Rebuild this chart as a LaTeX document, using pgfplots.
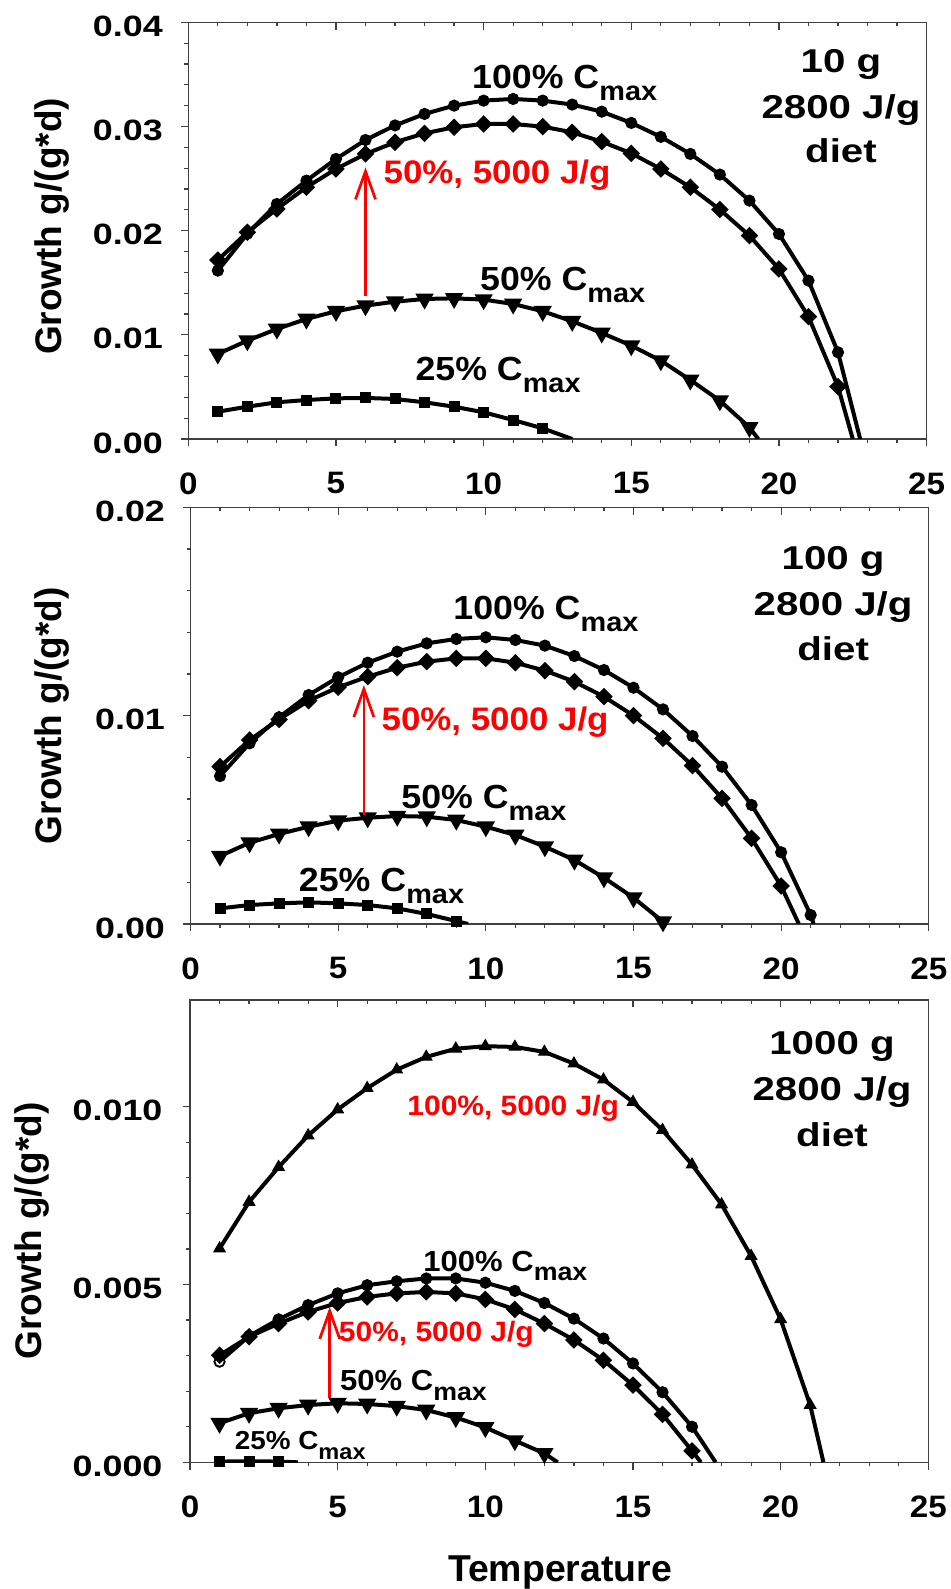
\documentclass[border=0pt]{standalone}
\usepackage{fontspec}
\setmainfont{Liberation Sans}
\newfontfamily\semi{Liberation Sans}[FakeStretch=1.07]
\newfontfamily\wide{Liberation Sans}[FakeStretch=1.22]
\usepackage{pgfplots}
\pgfplotsset{compat=1.18}
\usetikzlibrary{arrows.meta}

% C with a lowered "max"
\newcommand\cmax[2]{C\raisebox{-#2}{\fontsize{#1}{#1}\selectfont max}}
\newcommand\lab{\semi\bfseries\fontsize{16.7}{18}\selectfont}
\newcommand\labs{\semi\bfseries\fontsize{14.5}{16}\selectfont}
\newcommand\panel{\wide\bfseries\fontsize{16.5}{18}\selectfont}

\tikzset{redarrow/.style={red, line width=1.35pt, -{Straight Barb[length=14pt,width=10pt]}}}

\pgfplotsset{
  panel/.style={
    scale only axis, width=369.15pt, anchor=south west,
    xmin=0, xmax=25, xtick={0,5,10,15,20,25}, minor x tick num=4,
    xtick pos=bottom, ytick pos=left, tick align=outside,
    major tick length=3.75pt, minor tick length=2pt,
    axis line style={black!75, line width=0.6pt},
    tick style={black!75, line width=0.6pt},
    scaled y ticks=false,
    /pgf/number format/assume math mode=true,
    xticklabel style={font=\semi\bfseries\fontsize{15.5}{16}\selectfont, yshift=-9.5pt},
    yticklabel style={font=\wide\bfseries\fontsize{14.7}{16}\selectfont, xshift=-5.5pt, yshift=-2pt},
    clip mode=individual,
  },
  topticks/.style={
    scale only axis, width=369.15pt, anchor=south west,
    xmin=0, xmax=25, xtick={0,5,10,15,20,25}, minor x tick num=4,
    axis x line*=top, axis y line=none, xticklabels={}, ytick=\empty,
    tick align=inside, major tick length=3.75pt, minor tick length=2pt,
    axis line style={black!75, line width=0.6pt},
    tick style={black!75, line width=0.6pt},
  },
  curve/.style={black, line width=2pt, mark options={solid, fill=black, line width=0.5pt}},
  tail/.style={black, line width=2pt, no marks},
  circ/.style={curve, mark=*, mark size=2.8pt},
  diam/.style={curve, mark=square*, mark size=2.1pt, mark options={rotate=45}},
  tdown/.style={curve, mark=triangle*, mark size=3.3pt, mark options={rotate=180}},
  tup/.style={curve, mark=triangle*, mark size=3.3pt},
  sq/.style={curve, mark=square*, mark size=2.5pt},
}

\begin{document}
\begin{tikzpicture}
\path[use as bounding box] (0,0) rectangle (475.5pt,794.5pt);

% ---------------- 10 g fish ----------------
\begin{axis}[panel, at={(94.15pt,575pt)}, height=208.35pt,
  ymin=0, ymax=0.04, ytick={0,0.01,0.02,0.03,0.04}, minor y tick num=4,
  yticklabel style={/pgf/number format/.cd, fixed, fixed zerofill, precision=2}]
\addplot[circ] coordinates {(1,0.01616)(2,0.0197)(3,0.02256)(4,0.0248)(5,0.02688)(6,0.0287)(7,0.0301)(8,0.0312)(9,0.0320)(10,0.03248)(11,0.03264)(12,0.03248)(13,0.0321)(14,0.03142)(15,0.03034)(16,0.0290)(17,0.02736)(18,0.02538)(19,0.02288)(20,0.01968)(21,0.0152)(22,0.00832)};
\addplot[tail] coordinates {(22,0.00832)(22.75,0)};
\addplot[diam] coordinates {(1,0.01718)(2,0.01984)(3,0.02208)(4,0.02416)(5,0.02592)(6,0.02736)(7,0.02848)(8,0.02934)(9,0.02992)(10,0.03024)(11,0.03024)(12,0.02998)(13,0.02944)(14,0.02854)(15,0.02742)(16,0.02592)(17,0.02416)(18,0.02202)(19,0.01952)(20,0.01632)(21,0.01174)(22,0.00502)};
\addplot[tail] coordinates {(22,0.00502)(22.5,0)};
\addplot[tdown] coordinates {(1,0.00816)(2,0.00944)(3,0.01056)(4,0.01152)(5,0.01226)(6,0.0128)(7,0.01318)(8,0.01344)(9,0.0135)(10,0.01338)(11,0.01296)(12,0.01226)(13,0.0113)(14,0.01018)(15,0.00896)(16,0.00752)(17,0.00566)(18,0.00368)(19,0.00112)};
\addplot[tail] coordinates {(19,0.00112)(19.3,0)};
\addplot[sq] coordinates {(1,0.00262)(2,0.0031)(3,0.00352)(4,0.00374)(5,0.0039)(6,0.00394)(7,0.00384)(8,0.00352)(9,0.0031)(10,0.00256)(11,0.00182)(12,0.00102)};
\addplot[tail] coordinates {(12,0.00102)(13.0,0)};
\draw[redarrow] (axis cs:6,0.0137) -- (axis cs:6,0.02608);
\node[anchor=base west, inner sep=0, font=\lab] at (axis cs:9.6,0.0336) {100\% \cmax{13.5pt}{6pt}};
\node[anchor=base west, inner sep=0, font=\lab] at (axis cs:9.87,0.01424) {50\% \cmax{13.5pt}{6pt}};
\node[anchor=base west, inner sep=0, font=\lab] at (axis cs:7.68,0.0056) {25\% \cmax{13.5pt}{6pt}};
\node[anchor=base west, inner sep=0, font=\semi\bfseries\fontsize{16.3}{18}\selectfont, text=red] at (axis cs:6.6,0.02448) {50\%, 5000 J/g};
\node[anchor=base, inner sep=0, font=\panel] at (axis cs:22.1,0.03516) {10 g};
\node[anchor=base, inner sep=0, font=\panel] at (axis cs:22.1,0.03078) {2800 J/g};
\node[anchor=base, inner sep=0, font=\panel] at (axis cs:22.1,0.02652) {diet};
\end{axis}
\begin{axis}[topticks, at={(94.15pt,575pt)}, height=208.35pt, ymin=0, ymax=0.04]
\end{axis}

% ---------------- 100 g fish ----------------
\begin{axis}[panel, at={(95.25pt,332.5pt)}, height=208.35pt,
  ymin=0, ymax=0.02, ytick={0,0.01,0.02}, minor y tick num=4,
  yticklabel style={/pgf/number format/.cd, fixed, fixed zerofill, precision=2}]
\addplot[circ] coordinates {(1,0.0071)(2,0.00867)(3,0.00992)(4,0.01099)(5,0.01184)(6,0.01254)(7,0.01307)(8,0.01347)(9,0.01368)(10,0.01376)(11,0.01363)(12,0.01336)(13,0.01286)(14,0.01219)(15,0.01134)(16,0.0103)(17,0.00902)(18,0.00755)(19,0.00571)(20,0.00344)(21,0.00043)};
\addplot[tail] coordinates {(21,0.00043)(21.1,0)};
\addplot[diam] coordinates {(1,0.00755)(2,0.00883)(3,0.00982)(4,0.01072)(5,0.01136)(6,0.01187)(7,0.0123)(8,0.01259)(9,0.01275)(10,0.01275)(11,0.01254)(12,0.01216)(13,0.01163)(14,0.01091)(15,0.01)(16,0.00891)(17,0.0076)(18,0.00603)(19,0.00411)(20,0.00182)};
\addplot[tail] coordinates {(20,0.00182)(20.6,0)};
\addplot[tdown] coordinates {(1,0.00326)(2,0.0039)(3,0.00432)(4,0.00467)(5,0.00496)(6,0.0051)(7,0.00518)(8,0.00515)(9,0.00499)(10,0.00467)(11,0.00427)(12,0.00371)(13,0.00307)(14,0.00222)(15,0.00126)(16,0.00011)};
\addplot[tail] coordinates {(16,0.00011)(16.05,0)};
\addplot[sq] coordinates {(1,0.00075)(2,0.00091)(3,0.00099)(4,0.00104)(5,0.00099)(6,0.00091)(7,0.00075)(8,0.00048)(9,0.00014)};
\addplot[tail] coordinates {(9,0.00014)(9.4,0)};
\draw[redarrow] (axis cs:5.87,0.00523) -- (axis cs:5.87,0.01147);
\node[anchor=base west, inner sep=0, font=\lab] at (axis cs:8.89,0.01462) {100\% \cmax{13.5pt}{6pt}};
\node[anchor=base west, inner sep=0, font=\lab] at (axis cs:7.13,0.00555) {50\% \cmax{13.5pt}{6pt}};
\node[anchor=base west, inner sep=0, font=\lab] at (axis cs:3.66,0.00155) {25\% \cmax{13.5pt}{6pt}};
\node[anchor=base west, inner sep=0, font=\semi\bfseries\fontsize{16.3}{18}\selectfont, text=red] at (axis cs:6.46,0.00931) {50\%, 5000 J/g};
\node[anchor=base, inner sep=0, font=\panel] at (axis cs:21.76,0.01699) {100 g};
\node[anchor=base, inner sep=0, font=\panel] at (axis cs:21.76,0.01483) {2800 J/g};
\node[anchor=base, inner sep=0, font=\panel] at (axis cs:21.76,0.01267) {diet};
\end{axis}
\begin{axis}[topticks, at={(95.25pt,332.5pt)}, height=208.35pt, ymin=0, ymax=0.02]
\end{axis}

% ---------------- 1000 g fish ----------------
\begin{axis}[panel, at={(95pt,63.35pt)}, height=231.15pt,
  ymin=0, ymax=0.013, ytick={0,0.005,0.01}, minor y tick num=4,
  yticklabel style={xshift=-1pt, /pgf/number format/.cd, fixed, fixed zerofill, precision=3}]
\addplot[tup] coordinates {(1,0.00601)(2,0.00732)(3,0.0083)(4,0.00919)(5,0.00992)(6,0.01052)(7,0.01104)(8,0.0114)(9,0.01163)(10,0.0117)(11,0.01168)(12,0.01154)(13,0.01121)(14,0.01076)(15,0.01013)(16,0.00934)(17,0.00837)(18,0.00725)(19,0.0058)(20,0.00402)(21,0.00161)};
\addplot[tail] coordinates {(21,0.00161)(21.45,0)};
\addplot[circ] coordinates {(1,0.00283)(2,0.00355)(3,0.00402)(4,0.00442)(5,0.00475)(6,0.00498)(7,0.00509)(8,0.00517)(9,0.00517)(10,0.00505)(11,0.00482)(12,0.00448)(13,0.00404)(14,0.00348)(15,0.00278)(16,0.00197)(17,0.001)};
\addplot[tail] coordinates {(17,0.001)(17.8,0)};
\addplot[only marks, mark=*, mark size=2.4pt, mark options={fill=white, draw=black, line width=0.6pt}] coordinates {(1,0.00283)};
\addplot[diam] coordinates {(1,0.00301)(2,0.00353)(3,0.0039)(4,0.00423)(5,0.00448)(6,0.00465)(7,0.00475)(8,0.00479)(9,0.00475)(10,0.00458)(11,0.0043)(12,0.0039)(13,0.00344)(14,0.00287)(15,0.00217)(16,0.00135)(17,0.00032)};
\addplot[tail] coordinates {(17,0.00032)(17.3,0)};
\addplot[tdown] coordinates {(1,0.0011)(2,0.00138)(3,0.00152)(4,0.00161)(5,0.00166)(6,0.00164)(7,0.00158)(8,0.00147)(9,0.00126)(10,0.00098)(11,0.00061)(12,0.00025)};
\addplot[tail] coordinates {(12,0.00025)(12.45,0)};
\addplot[sq] coordinates {(1,0.00002)(2,0.00003)(3,0.00002)};
\addplot[tail] coordinates {(3,0.00002)(3.65,0)};
\draw[redarrow] (axis cs:4.73,0.0018) -- (axis cs:4.73,0.00437);
\node[anchor=base west, inner sep=0, font=\semi\bfseries\fontsize{14}{16}\selectfont, text=red] at (axis cs:7.35,0.00976) {100\%, 5000 J/g};
\node[anchor=base west, inner sep=0, font=\labs] at (axis cs:7.89,0.00536) {100\% \cmax{12.5pt}{4.5pt}};
\node[anchor=base west, inner sep=0, font=\semi\bfseries\fontsize{14}{16}\selectfont, text=red] at (axis cs:5.03,0.00339) {50\%, 5000 J/g};
\node[anchor=base west, inner sep=0, font=\labs] at (axis cs:5.07,0.00201) {50\% \cmax{12.5pt}{5pt}};
\node[anchor=base west, inner sep=0, font=\semi\bfseries\fontsize{13}{14}\selectfont] at (axis cs:1.51,0.000365) {25\% \cmax{11pt}{5.2pt}};
\node[anchor=base, inner sep=0, font=\panel] at (axis cs:21.74,0.01147) {1000 g};
\node[anchor=base, inner sep=0, font=\panel] at (axis cs:21.74,0.01016) {2800 J/g};
\node[anchor=base, inner sep=0, font=\panel] at (axis cs:21.74,0.00889) {diet};
\end{axis}
\begin{axis}[topticks, at={(95pt,63.35pt)}, height=231.15pt, ymin=0, ymax=0.013]
\end{axis}

% axis titles
\node[rotate=90, anchor=base, inner sep=0, font=\bfseries\fontsize{18.5}{20}\selectfont] at (30.8pt,681.25pt) {Growth g/(g*d)};
\node[rotate=90, anchor=base, inner sep=0, font=\bfseries\fontsize{18.5}{20}\selectfont] at (30.8pt,436.65pt) {Growth g/(g*d)};
\node[rotate=90, anchor=base, inner sep=0, font=\bfseries\fontsize{18.5}{20}\selectfont] at (20.8pt,179pt) {Growth g/(g*d)};
\node[anchor=base, inner sep=0, font=\bfseries\fontsize{18.7}{20}\selectfont] at (280pt,3.65pt) {Temperature};
\end{tikzpicture}
\end{document}
